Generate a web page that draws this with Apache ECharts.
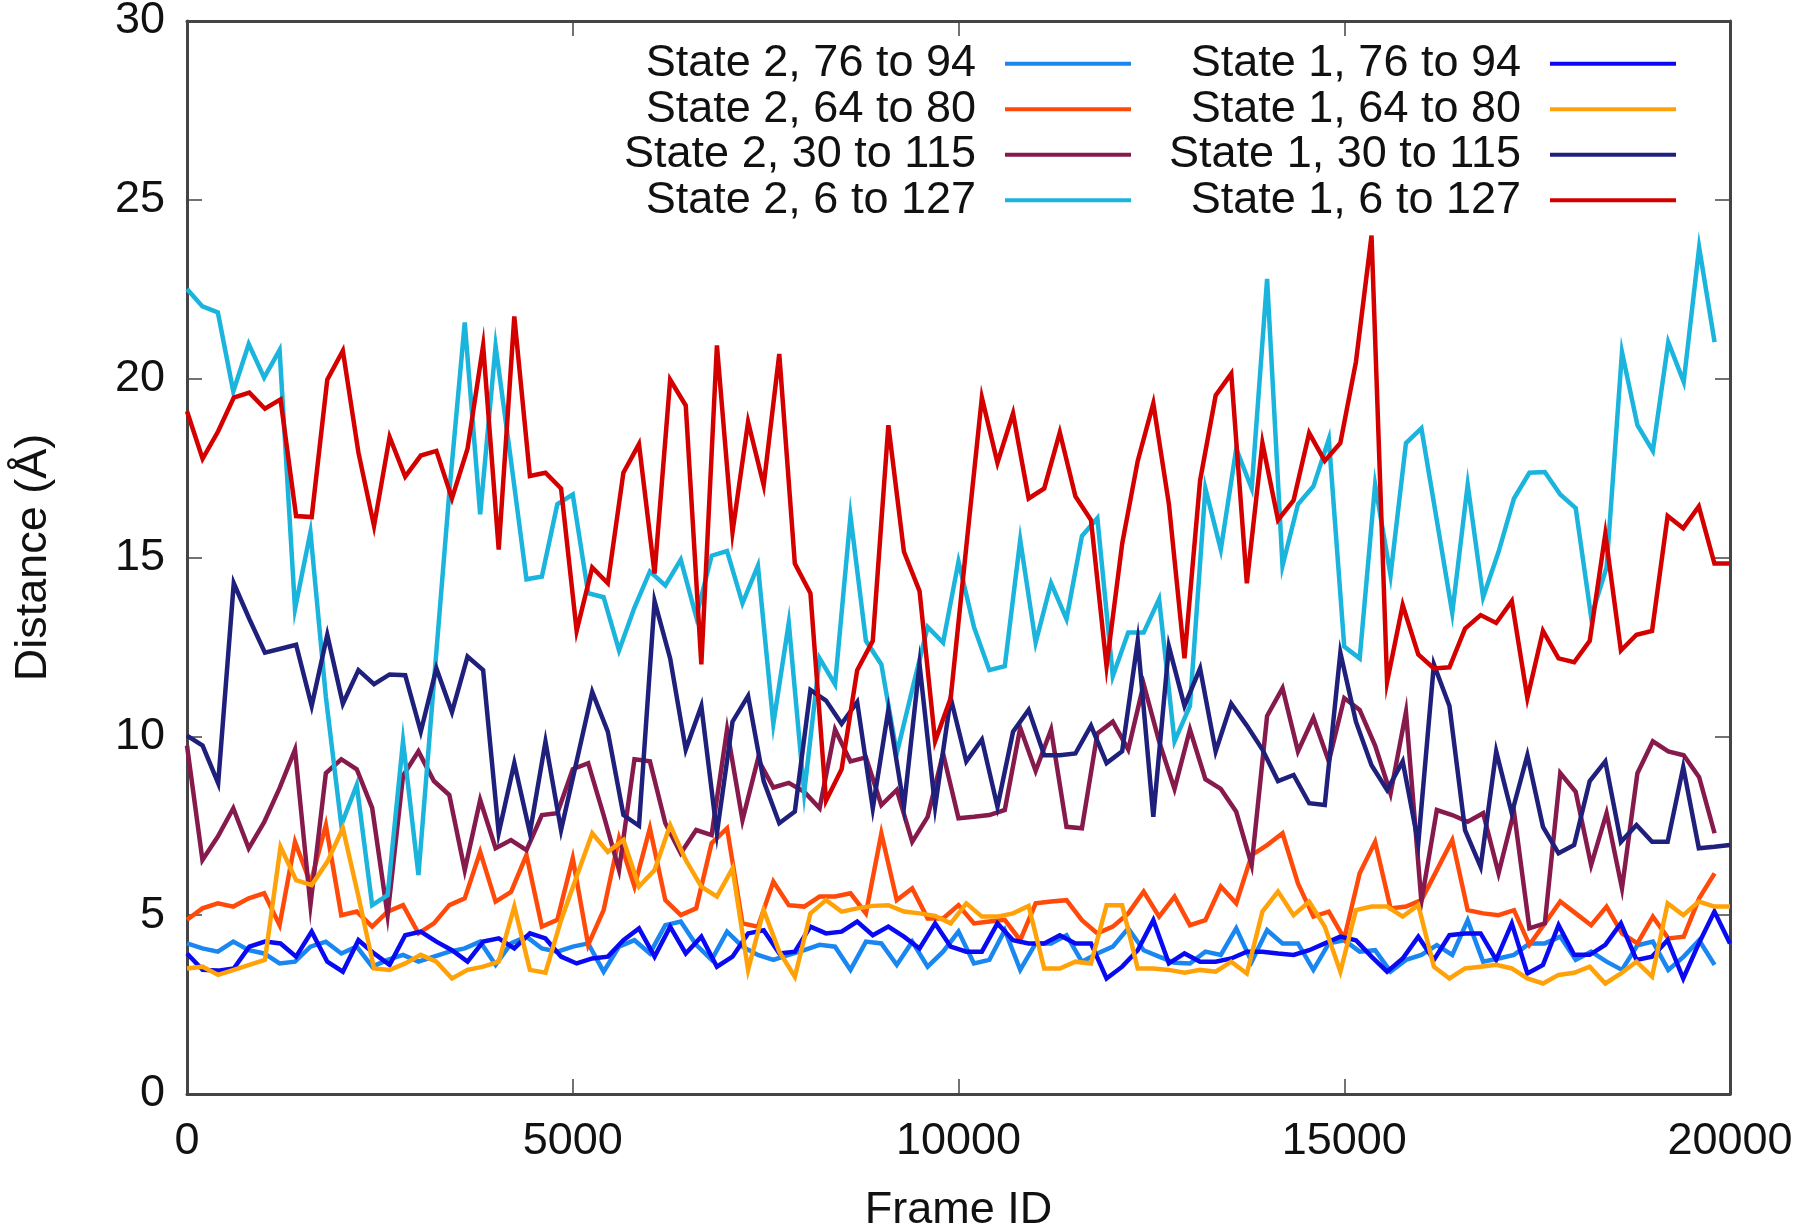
<!DOCTYPE html>
<html>
<head>
<meta charset="utf-8">
<script src="https://cdn.jsdelivr.net/npm/echarts@6/dist/echarts.min.js"></script>
<style>
html,body{margin:0;padding:0;background:#fff;}
#c{width:1800px;height:1226px;}
</style>
</head>
<body>
<div id="c"></div>
<script>
// ---- data ----
const xTicks = [0, 5000, 10000, 15000, 20000];
const yTicks = [0, 5, 10, 15, 20, 25, 30];

// State 2 sampled every 200 frames (0..19800), State 1 on 100 evenly spaced frames 0..20000
const framesState2 = Array.from({length: 100}, (_, i) => i * 200);
const framesState1 = Array.from({length: 100}, (_, i) => i * 20000 / 99);

const s2_76_94 = [4.21,4.07,3.98,4.26,4.02,3.93,3.65,3.70,4.12,4.26,3.93,4.12,3.56,3.75,3.89,3.70,3.84,3.98,4.07,4.26,3.61,4.21,
  4.40,4.07,3.98,4.12,4.21,3.42,4.12,4.30,3.93,4.72,4.82,4.17,3.75,4.54,4.12,3.89,3.75,3.89,4.02,4.17,4.12,
  3.47,4.26,4.21,3.61,4.26,3.56,3.98,4.54,3.65,3.75,4.58,3.47,4.21,4.21,4.44,3.70,3.93,4.12,4.63,4.02,
  3.84,3.67,3.65,3.98,3.89,4.63,3.70,4.58,4.21,4.21,3.47,4.21,4.30,3.98,4.02,3.42,3.75,3.89,
  4.16,3.89,4.86,3.70,3.79,3.89,4.21,4.21,4.40,3.75,3.98,3.70,3.47,4.16,4.26,3.47,3.84,4.30,3.61];

const s2_64_80 = [4.87,5.19,5.33,5.24,5.47,5.61,4.72,7.05,5.89,7.52,5.00,5.10,4.68,5.10,5.28,4.49,4.77,5.28,5.47,6.77,5.38,5.65,
  6.68,4.68,4.87,6.59,4.17,5.14,7.15,5.80,7.43,5.42,5.00,5.19,7.01,7.43,4.77,4.68,5.94,5.28,5.24,5.52,5.52,
  5.61,5.05,7.29,5.42,5.75,4.91,4.91,5.28,4.77,4.82,4.87,4.30,5.33,5.38,5.42,4.86,4.49,4.68,5.05,5.66,
  4.96,5.52,4.72,4.86,5.80,5.33,6.68,6.96,7.29,5.89,4.96,5.10,4.35,6.17,7.05,5.19,5.24,5.42,6.26,7.10,5.14,
  5.05,5.00,5.14,4.17,4.77,5.38,5.05,4.72,5.24,4.49,4.21,4.96,4.35,4.40,5.47,6.17];

const s2_30_115 = [9.74,6.54,7.2,7.99,6.87,7.6,8.55,9.63,5.28,8.97,9.36,9.08,8.0,5.0,8.9,9.58,8.75,8.36,6.26,8.22,6.87,7.10,
  6.82,7.80,7.85,9.08,9.25,7.8,6.26,9.36,9.30,7.57,6.73,7.38,7.24,10.19,7.66,9.36,8.57,8.7,8.45,7.99,
  10.19,9.30,9.41,8.08,8.50,7.05,7.75,9.52,7.71,7.75,7.8,7.94,10.24,9.03,10.19,7.47,7.43,10.08,10.41,9.63,11.46,
  9.86,8.53,10.19,8.80,8.53,7.89,6.40,10.57,11.35,9.58,10.52,9.30,11.07,10.74,9.74,8.4,10.68,5.38,
  7.94,7.8,7.61,7.85,6.17,7.89,4.63,4.77,8.97,8.45,6.40,7.85,5.75,8.97,9.86,9.58,9.47,8.86,7.29];

const s2_6_127 = [22.51,22.02,21.85,19.64,20.97,20.03,20.80,13.56,15.71,11.1,7.52,8.64,5.28,5.56,9.86,6.12,11.5,16.82,21.57,16.21,20.91,
  17.7,14.39,14.47,16.49,16.76,14.00,13.89,12.40,13.6,14.61,14.22,14.94,13.34,15.05,15.18,13.72,14.77,10.35,13.17,8.42,12.18,
  11.45,16.16,12.67,12.01,9.52,11.3,13.06,12.62,14.89,13.06,11.85,11.96,15.49,12.62,14.28,13.28,15.60,16.10,11.68,12.90,12.90,
  13.84,9.86,10.85,16.93,15.22,18.04,16.93,22.79,14.77,16.49,16.99,18.31,12.51,12.18,17.04,14.50,18.20,18.61,16.04,13.45,17.04,
  13.89,15.16,16.65,17.37,17.39,16.76,16.38,13.34,14.72,20.74,18.70,17.98,21.02,19.91,23.67,21.02];

const s1_76_94 = [3.93,3.47,3.45,3.51,4.12,4.26,4.21,3.84,4.54,3.70,3.42,4.30,3.93,3.61,4.44,4.54,4.26,4.02,3.70,4.26,4.35,
  4.07,4.49,4.35,3.84,3.65,3.79,3.84,4.30,4.63,3.84,4.68,3.93,4.40,3.56,3.84,4.49,4.58,3.93,3.98,4.68,4.49,
  4.54,4.82,4.44,4.68,4.40,4.07,4.77,4.12,3.98,3.98,4.77,4.30,4.21,4.21,4.44,4.21,4.21,3.23,3.56,4.02,
  4.86,3.65,3.93,3.70,3.70,3.79,3.98,3.98,3.93,3.89,4.02,4.21,4.40,4.30,3.84,3.42,3.79,4.40,
  3.75,4.44,4.49,4.49,3.75,4.77,3.37,3.61,4.72,3.89,3.89,4.17,4.77,3.75,3.84,4.30,3.23,4.21,5.10,4.21];

const s1_64_80 = [3.51,3.56,3.33,3.47,3.61,3.75,6.91,5.98,5.84,6.49,7.43,5.52,3.51,3.47,3.65,3.89,3.70,3.23,3.47,3.56,3.70,5.24,
  3.47,3.39,4.86,6.08,7.29,6.77,7.10,5.80,6.26,7.52,6.54,5.80,5.52,6.31,3.47,5.14,3.98,3.28,5.05,5.42,
  5.10,5.19,5.26,5.28,5.10,5.05,4.98,4.77,5.33,4.96,4.96,5.05,5.26,3.51,3.51,3.70,3.65,5.28,5.28,3.51,
  3.51,3.47,3.39,3.47,3.42,3.70,3.37,5.10,5.66,5.00,5.38,4.68,3.42,5.14,5.24,5.24,4.96,5.28,
  3.56,3.23,3.51,3.56,3.61,3.51,3.23,3.09,3.33,3.39,3.56,3.09,3.37,3.70,3.28,5.33,5.00,5.38,5.24,5.24];

const s1_30_115 = [10.02,9.74,8.69,14.28,13.28,12.34,12.45,12.56,10.85,12.84,10.91,11.85,11.46,11.73,11.71,10.13,11.90,10.68,12.23,11.85,
  7.3,9.25,7.3,9.85,7.38,9.3,11.24,10.13,7.8,7.5,13.78,12.18,9.63,10.85,7.29,10.41,11.13,8.75,7.57,7.9,
  11.3,11.0,10.35,10.96,7.99,10.74,8.03,12.01,8.03,11.07,9.30,9.91,8.03,10.13,10.74,9.47,9.47,9.52,10.30,9.25,9.58,12.67,
  7.75,12.51,10.85,11.90,9.58,10.91,10.30,9.63,8.75,8.92,8.13,8.08,12.34,10.41,9.19,8.5,9.30,7.01,
  12.01,10.85,7.38,6.35,9.58,7.85,9.47,7.47,6.73,6.96,8.75,9.30,7.05,7.52,7.05,7.05,9.14,6.87,6.91,6.96];

const s1_6_127 = [19.09,17.76,18.53,19.47,19.61,19.16,19.42,16.16,16.13,19.97,20.78,17.93,15.88,18.37,17.26,17.85,17.98,16.65,18.04,20.93,15.22,
  21.74,17.28,17.37,16.93,12.95,14.72,14.28,17.37,18.17,14.55,19.97,19.25,12.01,20.93,15.71,18.79,17.02,20.69,14.83,14.0,8.2,
  9.08,11.85,12.67,18.70,15.16,14.06,9.86,11.07,15.3,19.47,17.65,19.03,16.65,16.93,18.50,16.71,16.05,11.96,15.38,17.70,19.31,
  16.49,12.18,17.15,19.53,20.14,14.28,18.20,16.05,16.60,18.48,17.70,18.20,20.47,24.0,11.52,13.67,12.29,
  11.90,11.93,13.01,13.39,13.17,13.78,11.07,12.95,12.18,12.07,12.67,15.66,12.40,12.84,12.95,16.16,15.82,16.43,14.83,14.83];

const seriesNames = [
  'State 2, 76 to 94', 'State 2, 64 to 80', 'State 2, 30 to 115', 'State 2, 6 to 127',
  'State 1, 76 to 94', 'State 1, 64 to 80', 'State 1, 30 to 115', 'State 1, 6 to 127'
];
const seriesValues = [s2_76_94, s2_64_80, s2_30_115, s2_6_127, s1_76_94, s1_64_80, s1_30_115, s1_6_127];
const seriesFrames = [framesState2, framesState2, framesState2, framesState2, framesState1, framesState1, framesState1, framesState1];
const seriesColors = ['#1a86f0', '#ff4a0a', '#871a4c', '#1ab4dd', '#0a0af2', '#ffa20a', '#1f1f7c', '#d40000'];

// ---- chart ----
const FONT = '"Liberation Sans", Arial, Helvetica, sans-serif';
const chart = echarts.init(document.getElementById('c'), null, {renderer: 'canvas', width: 1800, height: 1226});

const axisLineStyle = {color: '#444', width: 3};
const tickStyle = {color: '#444', width: 1.5};

const series = seriesNames.map((name, k) => ({
  name: name,
  type: 'line',
  xAxisIndex: 0,
  yAxisIndex: 0,
  showSymbol: false,
  symbol: 'none',
  animation: false,
  z: 2 + k,
  clip: true,
  lineStyle: {width: 4.5, color: seriesColors[k], join: 'miter'},
  itemStyle: {color: seriesColors[k]},
  data: seriesFrames[k].map((f, i) => [f, seriesValues[k][i]])
}));

const legendCommon = {
  orient: 'vertical',
  align: 'right',
  icon: 'rect',
  itemWidth: 126,
  itemHeight: 4,
  itemGap: 0,
  padding: 0,
  selectedMode: false,
  textStyle: {fontSize: 45, fontFamily: FONT, color: '#111', lineHeight: 45.5, padding: [0, 24, 0, 0]}
};

chart.setOption({
  animation: false,
  backgroundColor: '#fff',
  grid: {left: 187, right: 70, top: 21, bottom: 132, containLabel: false, outerBoundsMode: 'none', show: false},
  legend: [
    Object.assign({}, legendCommon, {right: 669, top: 41, data: seriesNames.slice(0, 4)}),
    Object.assign({}, legendCommon, {right: 124, top: 41, data: seriesNames.slice(4, 8)})
  ],
  xAxis: [
    {
      type: 'value', position: 'bottom', min: xTicks[0], max: xTicks[xTicks.length - 1], interval: xTicks[1] - xTicks[0],
      axisLine: {show: true, onZero: false, lineStyle: axisLineStyle},
      axisTick: {show: true, inside: true, length: 15, lineStyle: tickStyle},
      axisLabel: {fontSize: 45, fontFamily: FONT, color: '#111', margin: 25, formatter: (v) => String(v)},
      splitLine: {show: false},
      name: 'Frame ID', nameLocation: 'middle', nameGap: 94,
      nameTextStyle: {fontSize: 45, fontFamily: FONT, color: '#111'}
    },
    {
      type: 'value', position: 'top', min: xTicks[0], max: xTicks[xTicks.length - 1], interval: xTicks[1] - xTicks[0],
      axisLine: {show: true, onZero: false, lineStyle: axisLineStyle},
      axisTick: {show: true, inside: true, length: 15, lineStyle: tickStyle},
      axisLabel: {show: false}, splitLine: {show: false}
    }
  ],
  yAxis: [
    {
      type: 'value', position: 'left', min: yTicks[0], max: yTicks[yTicks.length - 1], interval: yTicks[1] - yTicks[0],
      axisLine: {show: true, onZero: false, lineStyle: axisLineStyle},
      axisTick: {show: true, inside: true, length: 15, lineStyle: tickStyle},
      axisLabel: {fontSize: 45, fontFamily: FONT, color: '#111', margin: 22, formatter: (v) => String(v)},
      splitLine: {show: false},
      name: 'Distance (Å)', nameLocation: 'middle', nameGap: 131, nameRotate: 90,
      nameTextStyle: {fontSize: 45, fontFamily: FONT, color: '#111'}
    },
    {
      type: 'value', position: 'right', min: yTicks[0], max: yTicks[yTicks.length - 1], interval: yTicks[1] - yTicks[0],
      axisLine: {show: true, onZero: false, lineStyle: axisLineStyle},
      axisTick: {show: true, inside: true, length: 15, lineStyle: tickStyle},
      axisLabel: {show: false}, splitLine: {show: false}
    }
  ],
  series: series
});
</script>
</body>
</html>
